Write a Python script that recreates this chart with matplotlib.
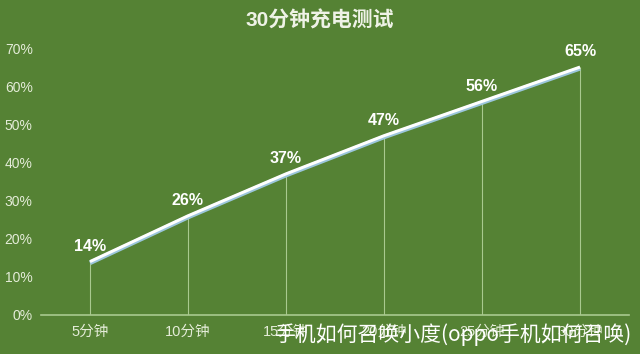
import matplotlib.pyplot as plt
import numpy as np

plt.rcParams['font.family'] = ['Liberation Sans', 'Noto Sans CJK SC', 'DejaVu Sans']

categories = ['5分钟', '10分钟', '15分钟', '20分钟', '25分钟', '30分钟']
values = [14, 26, 37, 47, 56, 65]
yticks = [0, 10, 20, 30, 40, 50, 60, 70]
ytick_labels = ['0%', '10%', '20%', '30%', '40%', '50%', '60%', '70%']

bg = '#558234'
fig = plt.figure(figsize=(6.4, 3.54), dpi=100, facecolor=bg)
ax = fig.add_axes([41 / 640, 1 - 315 / 354, 588 / 640, 267 / 354])
ax.set_facecolor(bg)

x = np.arange(len(categories))
# drop lines
ax.vlines(x, 0, values, color='#a9c98f', linewidth=0.8)
# line with light blue shadow
ax.plot(x, np.array(values) - 0.35, color='#9cc6dc', linewidth=3.2, solid_capstyle='butt')
ax.plot(x, values, color='white', linewidth=2.2, solid_capstyle='butt')

for xi, v in zip(x, values):
    ax.annotate(f'{v}%', (xi, v), xytext=(0, 11), textcoords='offset points',
                ha='center', va='center', color='white', fontsize=11.5, fontweight='bold')

ax.set_xlim(-0.5, len(categories) - 0.5)
ax.set_ylim(0, 70)
ax.set_xticks(x)
ax.set_xticklabels(categories, fontsize=10.5)
ax.set_yticks(yticks)
ax.set_yticklabels(ytick_labels, fontsize=10)
ax.tick_params(axis='both', length=0, colors='#e4ecd8')
ax.tick_params(axis='x', pad=7)
ax.tick_params(axis='y', pad=6)
for s in ['top', 'right', 'left']:
    ax.spines[s].set_visible(False)
ax.spines['bottom'].set_color('#a9c98f')
ax.spines['bottom'].set_linewidth(1.2)

fig.text(0.5, 1 - 20 / 354, '30分钟充电测试', ha='center', va='center',
         color='#eef2e6', fontsize=15, fontweight='bold')

fig.text(632 / 640, 1 - 335 / 354, '手机如何召唤小度(oppo手机如何召唤)', ha='right', va='center',
         color='white', fontsize=15, family=['Noto Sans CJK SC', 'DejaVu Sans'])

plt.savefig('out.png', dpi=100, facecolor=bg)
